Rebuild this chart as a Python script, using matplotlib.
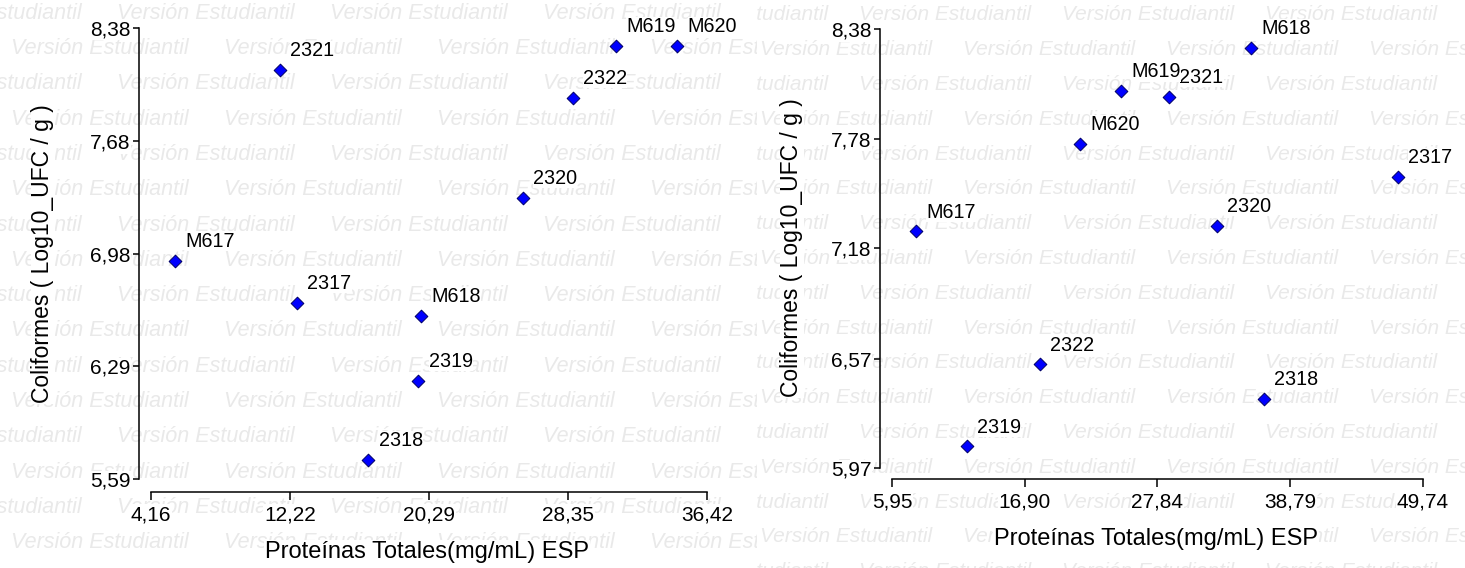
import numpy as np
import matplotlib.pyplot as plt

plt.rcParams['font.family'] = ['Liberation Sans', 'DejaVu Sans']

W, H = 1465, 568

# panel 1 (left)
left_names = ["2321", "M619", "M620", "2322", "2320", "M617", "2317", "M618", "2319", "2318"]
left_prot = [11.62, 31.15, 34.70, 28.62, 25.72, 5.57, 12.62, 19.83, 19.67, 16.76]
left_coli = [8.12, 8.27, 8.27, 7.95, 7.33, 6.94, 6.68, 6.60, 6.20, 5.71]
left_xticks = [4.16, 12.22, 20.29, 28.35, 36.42]
left_yticks = [5.59, 6.29, 6.98, 7.68, 8.38]

# panel 2 (right)
right_names = ["M618", "2321", "M619", "M620", "2317", "M617", "2320", "2322", "2318", "2319"]
right_prot = [35.55, 28.80, 24.85, 21.46, 47.66, 7.89, 32.75, 18.15, 36.62, 12.11]
right_coli = [8.28, 8.01, 8.04, 7.75, 7.57, 7.27, 7.30, 6.54, 6.35, 6.09]
right_xticks = [5.95, 16.90, 27.84, 38.79, 49.74]
right_yticks = [5.97, 6.57, 7.18, 7.78, 8.38]

xlabel = "Proteínas Totales(mg/mL) ESP"
ylabel = "Coliformes ( Log10_UFC / g )"
watermark = "Versión Estudiantil"

WHITE = dict(facecolor="white", edgecolor="none", pad=0.6)
WHITE_TIGHT = dict(facecolor="white", edgecolor="none", pad=0.2)


def fx(px):
    return px / W


def fy(py):
    return 1 - py / H


fig = plt.figure(figsize=(W / 100, H / 100), dpi=100)
fig.patch.set_facecolor("white")


def draw_watermark(x0, x1, y_first, y_step, x_even, x_odd, step, size):
    bg = fig.add_axes([fx(x0), 0, fx(x1) - fx(x0), 1], zorder=-5)
    bg.set_xlim(x0, x1)
    bg.set_ylim(H, 0)
    bg.axis("off")
    for k in range(18):
        y = y_first + k * y_step
        start = x_even if k % 2 == 0 else x_odd
        for n in range(6):
            bg.text(start + n * step, y, watermark, fontsize=size, style="italic",
                    color="#e9e9e9", ha="left", va="center", clip_on=True)


draw_watermark(0, 757, 13.3, 35.3, -96, 10.5, 213, 15.5)
draw_watermark(757, W, 15.0, 34.8, 656, 557, 203, 15.0)


def make_panel(names, xs, ys, xt, yt, yaxis_x, xaxis_y, xt0_px, xt1_px,
               yt_top_px, yt_bot_px, ylab_x, ylab_y, xlab_x, xlab_y):
    ax = fig.add_axes([fx(yaxis_x), fy(xaxis_y),
                       fx(xt1_px) - fx(yaxis_x), fy(yt_top_px) - fy(xaxis_y)], zorder=1)
    ax.patch.set_visible(False)

    xscale = (xt1_px - xt0_px) / (xt[-1] - xt[0])
    yscale = (yt_bot_px - yt_top_px) / (yt[-1] - yt[0])
    ax.set_xlim(xt[0] - (xt0_px - yaxis_x) / xscale, xt[-1])
    ax.set_ylim(yt[0] - (xaxis_y - yt_bot_px) / yscale, yt[-1])

    ax.scatter(xs, ys, marker="D", s=42, facecolor="#0000ff",
               edgecolor="#000066", linewidth=0.7, zorder=3, clip_on=False)
    for name, x, y in zip(names, xs, ys):
        ax.annotate(name, (x, y), xytext=(7.5, 9.9), textcoords="offset points",
                    ha="left", va="baseline", fontsize=14.2, bbox=WHITE_TIGHT, zorder=4)

    for side in ["top", "right"]:
        ax.spines[side].set_visible(False)
    ax.spines["left"].set_bounds(yt[0], yt[-1])
    ax.spines["bottom"].set_bounds(xt[0], xt[-1])
    for side in ["left", "bottom"]:
        ax.spines[side].set_linewidth(1.1)

    ax.set_xticks(xt)
    ax.set_xticklabels([f"{v:.2f}".replace(".", ",") for v in xt])
    ax.set_yticks(yt)
    ax.set_yticklabels([f"{v:.2f}".replace(".", ",") for v in yt])
    ax.tick_params(axis="x", direction="out", length=5.8, width=1.1, pad=4, labelsize=15)
    ax.tick_params(axis="y", direction="out", length=4.3, width=1.1, pad=2, labelsize=15)
    for tick in ax.xaxis.get_major_ticks() + ax.yaxis.get_major_ticks():
        tick.label1.set_bbox(WHITE)

    fig.text(fx(ylab_x), fy(ylab_y), ylabel, rotation=90, ha="center", va="center",
             fontsize=16.5, bbox=WHITE, zorder=2)
    fig.text(fx(xlab_x), fy(xlab_y), xlabel, ha="center", va="baseline",
             fontsize=17, bbox=WHITE, zorder=2)
    return ax


make_panel(left_names, left_prot, left_coli, left_xticks, left_yticks,
           139, 491.7, 151, 707, 28, 479.3, 43, 254, 427, 558)
make_panel(right_names, right_prot, right_coli, right_xticks, right_yticks,
           880, 479, 892, 1423, 29.3, 468.3, 792, 248, 1156, 545)

fig.savefig("out.png", dpi=100)
